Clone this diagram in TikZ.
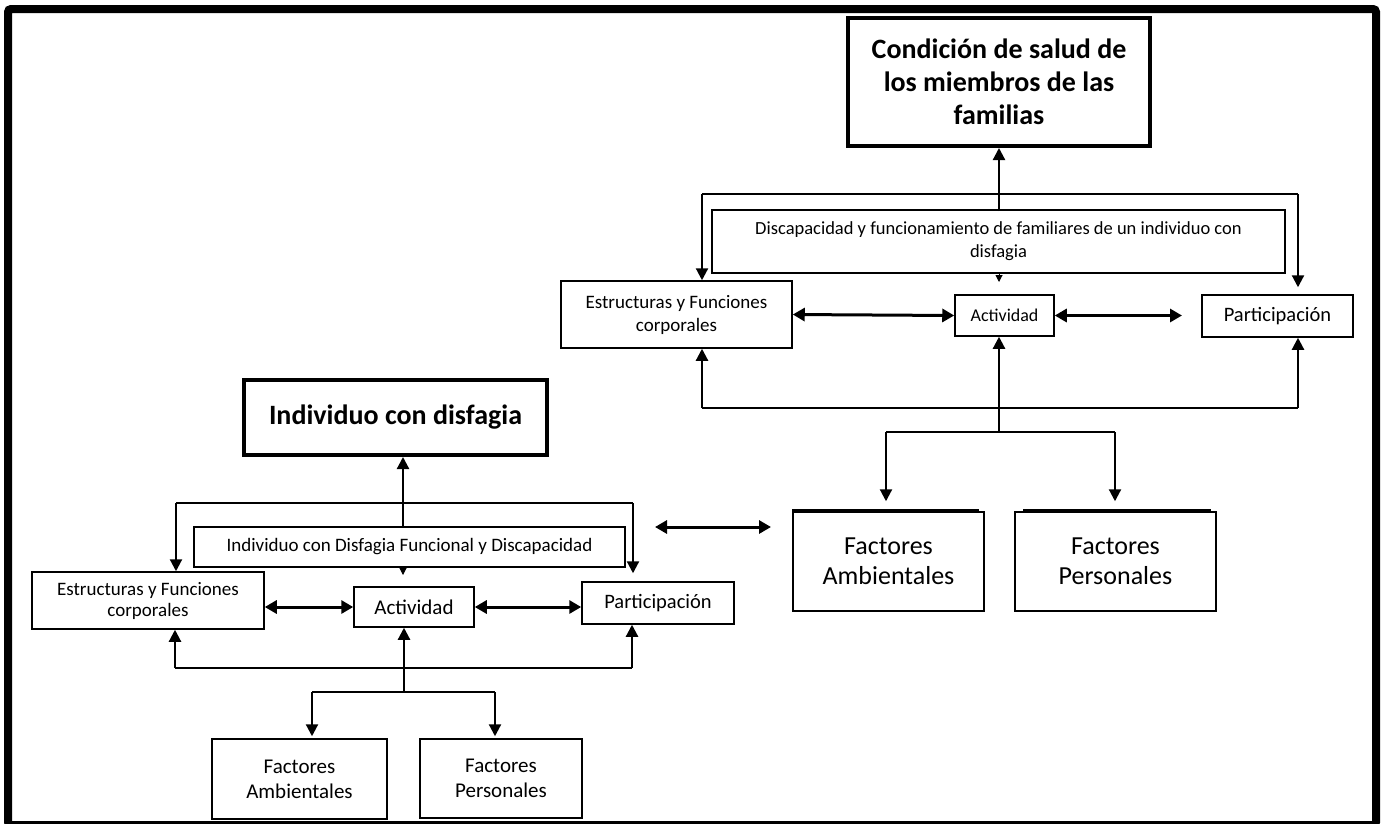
\documentclass[tikz,border=0pt]{standalone}
\usepackage{fontspec}
\setmainfont{Carlito}
\usetikzlibrary{arrows.meta}
\begin{document}
\begin{tikzpicture}[x=1pt,y=-1pt,
  box/.style={draw,line width=1.5pt,inner sep=0pt,align=center},
  bigbox/.style={draw,line width=4pt,inner sep=0pt,align=center,font=\fontsize{28}{33}\selectfont\bfseries},
  ln/.style={line width=1.6pt},
  ar/.style={line width=2.2pt,-{Triangle[length=12pt,width=12pt]}},
  tick/.style={line width=1pt,-{Triangle[length=7pt,width=7pt]}},
  dar/.style={line width=3pt,{Triangle[length=12pt,width=13pt]}-{Triangle[length=12pt,width=13pt]}},
  topedge/.style={line width=2.5pt},
]
\useasboundingbox (0,0) rectangle (1384,823);
\fill[white] (0,0) rectangle (1384,823);
\draw[line width=8pt,rounded corners=3pt] (8,9) rectangle (1376,825);

% ---------- upper cluster ----------
\node[bigbox,minimum width=302pt,minimum height=128pt] (cond) at (999,82) {Condición de salud de\\los miembros de las\\familias};
\node[box,minimum width=573pt,minimum height=63pt,font=\fontsize{18.5}{23}\selectfont] (disc) at (998.5,241.5) {Discapacidad y funcionamiento de familiares de un individuo con\\disfagia};
\node[box,minimum width=231pt,minimum height=67pt,font=\fontsize{19}{23}\selectfont] (estU) at (676.5,314.5) {Estructuras y Funciones\\corporales};
\node[box,minimum width=99pt,minimum height=41pt,font=\fontsize{18}{22}\selectfont] (actU) at (1004.5,315.5) {Actividad};
\node[box,minimum width=151pt,minimum height=42pt,font=\fontsize{20.5}{24}\selectfont] (parU) at (1277.5,316) {Participación};
\node[box,minimum width=191pt,minimum height=99pt,font=\fontsize{26}{30}\selectfont] (famU) at (888.5,561.5) {Factores\\Ambientales};
\node[box,minimum width=201pt,minimum height=99pt,font=\fontsize{26}{30}\selectfont] (perU) at (1115.5,561.5) {Factores\\Personales};
\draw[topedge] ([yshift=1.2pt]famU.north west) -- ([xshift=-6pt,yshift=1.2pt]famU.north east);
\draw[topedge] ([xshift=9pt,yshift=1.2pt]perU.north west) -- ([xshift=-6pt,yshift=1.2pt]perU.north east);

\coordinate (uTopL) at (702,194);
\coordinate (uTopR) at (1298,194);
\coordinate (uUp) at (999,211);
\coordinate (uTickA) at (999,273);
\coordinate (uTickB) at (999,282);
\coordinate (uPtip) at (1182,315.5);
\coordinate (uBotL) at (702,408);
\coordinate (uBotR) at (1298,408);
\coordinate (uBr) at (999,432);
\coordinate (uBrL) at (886,432);
\coordinate (uBrR) at (1115,432);

\draw[ar] (uUp) -- (uUp |- cond.south);
\draw[ln] (uTopL) -- (uTopR);
\draw[ar] (uTopL) -- (uTopL |- estU.north);
\draw[ar,shorten >=7pt] (uTopR) -- (uTopR |- parU.north);
\draw[tick] (uTickA) -- (uTickB);
\draw[dar] (estU.east) -- (actU.west);
\draw[dar] (actU.east) -- (uPtip);
\draw[ar] (uBr) -- (uBr |- actU.south);
\draw[ln] (uBotL) -- (uBotR);
\draw[ar] (uBotL) -- (uBotL |- estU.south);
\draw[ar] (uBotR) -- (uBotR |- parU.south);
\draw[ln] (uBrL) -- (uBrR);
\draw[ar,shorten >=10pt] (uBrL) -- (uBrL |- famU.north);
\draw[ar,shorten >=10pt] (uBrR) -- (uBrR |- perU.north);

% ---------- middle double arrow ----------
\coordinate (mL) at (655,527);
\coordinate (mR) at (771,527);
\draw[dar] (mL) -- (mR);

% ---------- lower cluster ----------
\node[bigbox,minimum width=303pt,minimum height=75pt] (indiv) at (395.5,417.5) {Individuo con disfagia};
\node[box,minimum width=431pt,minimum height=40pt,font=\fontsize{19}{22}\selectfont] (dis) at (409.5,547) {Individuo con Disfagia Funcional y Discapacidad};
\node[box,minimum width=232pt,minimum height=57pt,font=\fontsize{19}{21}\selectfont] (estL) at (148,600.5) {Estructuras y Funciones\\corporales};
\node[box,minimum width=120pt,minimum height=40pt,font=\fontsize{21}{24}\selectfont] (actL) at (414,607) {Actividad};
\node[box,minimum width=152pt,minimum height=42pt,font=\fontsize{20.5}{24}\selectfont] (parL) at (658,603) {Participación};
\node[box,minimum width=175pt,minimum height=80pt,font=\fontsize{21}{25}\selectfont] (famL) at (299.5,779) {Factores\\Ambientales};
\node[box,minimum width=162pt,minimum height=79pt,font=\fontsize{21}{25}\selectfont] (perL) at (501,778.5) {Factores\\Personales};

\coordinate (lUp) at (403,527);
\coordinate (lTopL) at (176,503);
\coordinate (lTopR) at (633,503);
\coordinate (lTickA) at (403,567);
\coordinate (lTickB) at (403,575);
\coordinate (lBotL) at (175,668);
\coordinate (lBotR) at (632,668);
\coordinate (lBr) at (404,692);
\coordinate (lBrL) at (312,692);
\coordinate (lBrR) at (495,692);

\draw[ar] (lUp) -- (lUp |- indiv.south);
\draw[ln] (lTopL) -- (lTopR);
\draw[ar] (lTopL) -- (lTopL |- estL.north);
\draw[ar,shorten >=8pt] (lTopR) -- (lTopR |- parL.north);
\draw[tick] (lTickA) -- (lTickB);
\draw[dar] (estL.east |- actL.west) -- (actL.west);
\draw[dar] (actL.east) -- (actL.east -| parL.west);
\draw[ar] (lBr) -- (lBr |- actL.south);
\draw[ln] (lBotL) -- (lBotR);
\draw[ar] (lBotL) -- (lBotL |- estL.south);
\draw[ar] (lBotR) -- (lBotR |- parL.south);
\draw[ln] (lBrL) -- (lBrR);
\draw[ar,shorten >=2pt] (lBrL) -- (lBrL |- famL.north);
\draw[ar,shorten >=2pt] (lBrR) -- (lBrR |- perL.north);
\end{tikzpicture}
\end{document}
